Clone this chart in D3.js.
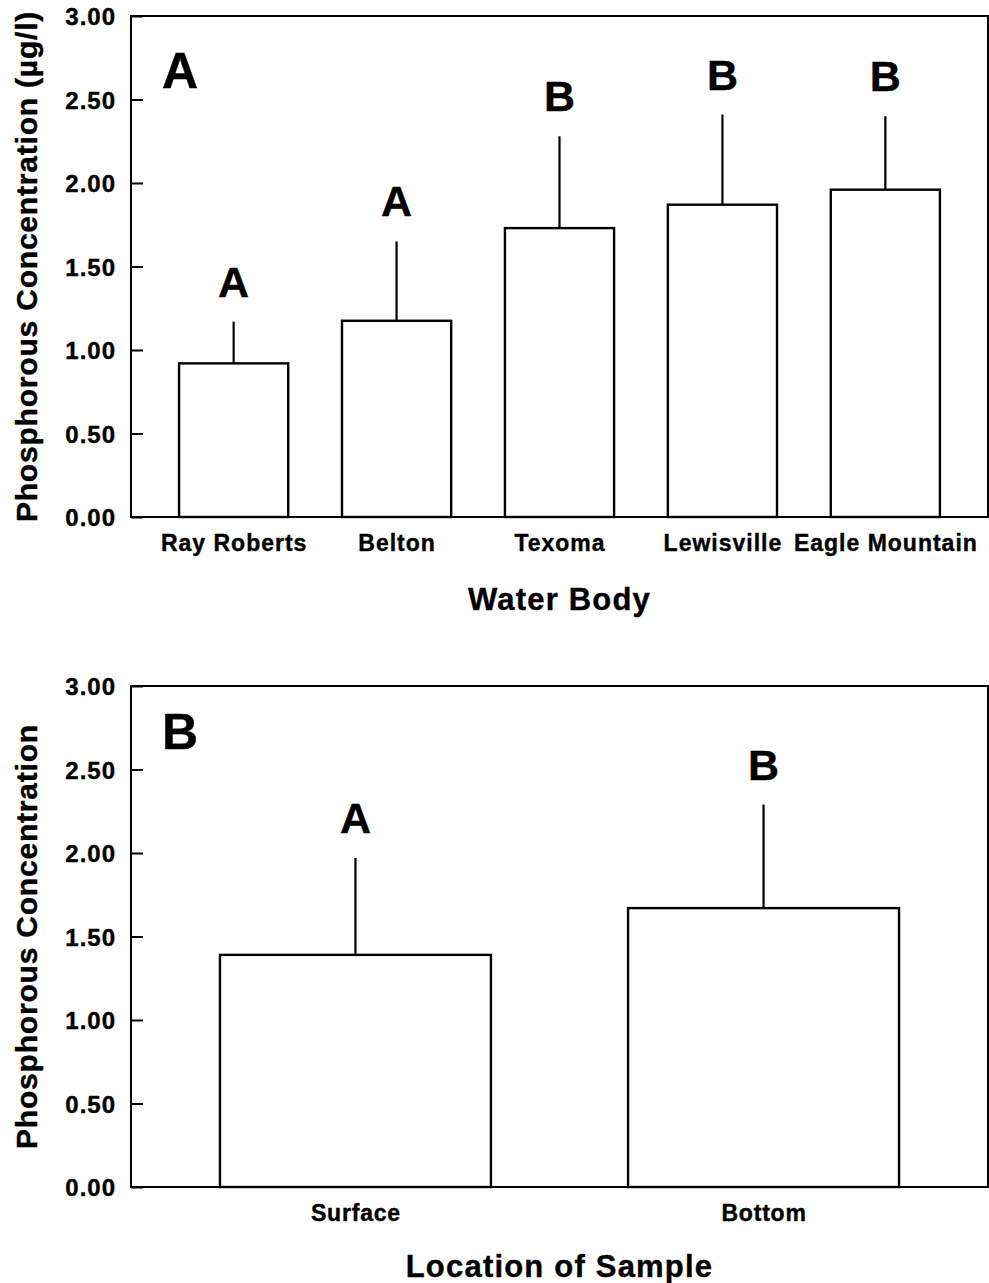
<!DOCTYPE html>
<html><head><meta charset="utf-8">
<script src="https://cdn.jsdelivr.net/npm/d3@7"></script>
<style>
body{margin:0;background:#fff;}
text{font-family:"Liberation Sans",Arial,sans-serif;font-weight:bold;fill:#000;stroke:#000;stroke-width:0.4px;}
</style></head>
<body>
<svg id="chart" width="989" height="1283"></svg>
<script>
// Panel A data
const lakes = ["Ray Roberts","Belton","Texoma","Lewisville","Eagle Mountain"];
const lakeMeans = [0.92, 1.175, 1.73, 1.87, 1.96];
const lakeErrTop = [1.17, 1.65, 2.28, 2.41, 2.40];
const lakeLetters = ["A","A","B","B","B"];
// Panel B data
const locations = ["Surface","Bottom"];
const locMeans = [1.39, 1.67];
const locErrTop = [1.97, 2.29];
const locLetters = ["A","B"];
const yTicks = [0,0.5,1,1.5,2,2.5,3];

const svg = d3.select("#chart");

function panel(cfg){
  const {top, bottom, left, right, cats, means, errs, letters, padding, barFrac, panelLabel, labelY, yTitle, xTitle, catSize, catSpacing, yTitleSize, xTitleY} = cfg;
  const g = svg.append("g");
  const x = d3.scalePoint().domain(cats).range([left,right]).padding(padding);
  const y = d3.scaleLinear().domain([0,3]).range([bottom,top]);
  const bw = x.step()*barFrac;
  // frame
  g.append("rect").attr("x",left).attr("y",top).attr("width",right-left).attr("height",bottom-top)
    .attr("fill","none").attr("stroke","#000").attr("stroke-width",2);
  // y axis
  const ya = d3.axisLeft(y).tickValues(yTicks).tickFormat(d3.format(".2f")).tickSizeInner(-12).tickSizeOuter(0).tickPadding(15);
  const ag = g.append("g").attr("transform",`translate(${left},0)`).call(ya);
  ag.select(".domain").remove();
  ag.selectAll(".tick line").attr("stroke","#000").attr("stroke-width",2);
  ag.selectAll(".tick text").style("font-size","24px").style("letter-spacing","1px").attr("fill","#000").attr("font-family",null).attr("dy","0.36em");
  // x labels
  const xa = d3.axisBottom(x).tickSize(0).tickPadding(18);
  const xg = g.append("g").attr("transform",`translate(0,${bottom})`).call(xa);
  xg.select(".domain").remove();
  xg.selectAll(".tick text").style("font-size",catSize+"px").style("letter-spacing",catSpacing+"px").attr("font-family",null);
  // error bars
  g.selectAll(".err").data(cats).enter().append("line")
    .attr("x1",d=>x(d)).attr("x2",d=>x(d))
    .attr("y1",(d,i)=>y(means[i])).attr("y2",(d,i)=>y(errs[i]))
    .attr("stroke","#000").attr("stroke-width",2.2);
  // bars
  g.selectAll(".bar").data(cats).enter().append("rect")
    .attr("x",d=>x(d)-bw/2).attr("width",bw)
    .attr("y",(d,i)=>y(means[i])).attr("height",(d,i)=>bottom-y(means[i]))
    .attr("fill","#fff").attr("stroke","#000").attr("stroke-width",2.4);
  // letters
  g.selectAll(".let").data(cats).enter().append("text")
    .attr("x",d=>x(d)).attr("y",(d,i)=>y(errs[i])-25)
    .attr("text-anchor","middle").style("font-size","43px")
    .text((d,i)=>letters[i]);
  // panel label
  g.append("text").attr("x",left+31).attr("y",labelY).style("font-size","50px").text(panelLabel);
  // y title
  g.append("text").attr("transform",`translate(37,${(top+bottom)/2}) rotate(-90)`)
    .attr("text-anchor","middle").style("font-size",yTitleSize+"px").style("letter-spacing","0.8px").text(yTitle);
  // x title
  g.append("text").attr("x",(left+right)/2).attr("y",xTitleY).attr("text-anchor","middle")
    .style("font-size","31px").style("letter-spacing","1.2px").text(xTitle);
}

panel({top:16,bottom:517,left:131,right:988,cats:lakes,means:lakeMeans,errs:lakeErrTop,letters:lakeLetters,
  padding:0.63,barFrac:0.67,panelLabel:"A",labelY:88,yTitle:"Phosphorous Concentration (µg/l)",xTitle:"Water Body",
  catSize:23,catSpacing:1,yTitleSize:30,xTitleY:610});
panel({top:686,bottom:1187,left:131,right:988,cats:locations,means:locMeans,errs:locErrTop,letters:locLetters,
  padding:0.55,barFrac:0.664,panelLabel:"B",labelY:749,yTitle:"Phosphorous Concentration",xTitle:"Location of Sample",
  catSize:23,catSpacing:0.8,yTitleSize:30,xTitleY:1277});
</script>
</body></html>
